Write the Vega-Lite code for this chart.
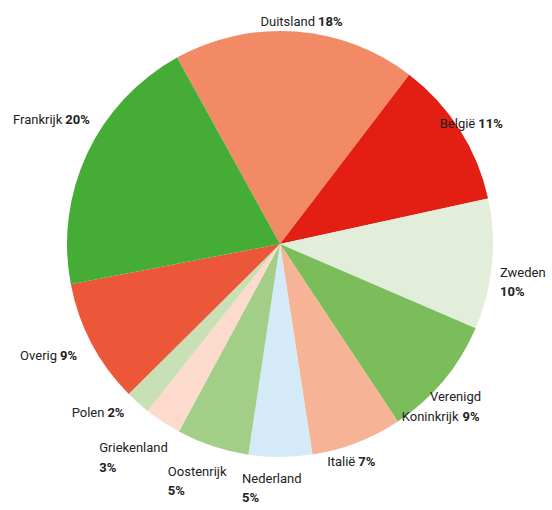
{
  "$schema": "https://vega.github.io/schema/vega-lite/v6.json",
  "width": 544,
  "height": 488,
  "autosize": "none",
  "padding": {"left": 8, "top": 0, "right": 0, "bottom": 22},
  "background": "white",
  "config": {"view": {"stroke": null}, "text": {"font": "Roboto", "fontSize": 13, "baseline": "alphabetic", "color": "#222222"}},
  "data": {"values": [
    {"country": "Duitsland", "share": 18.4, "pct": "18%", "order": 1},
    {"country": "België", "share": 11.2, "pct": "11%", "order": 2},
    {"country": "Zweden", "share": 9.9, "pct": "10%", "order": 3},
    {"country": "Verenigd Koninkrijk", "share": 9.2, "pct": "9%", "order": 4},
    {"country": "Italië", "share": 6.9, "pct": "7%", "order": 5},
    {"country": "Nederland", "share": 4.8, "pct": "5%", "order": 6},
    {"country": "Oostenrijk", "share": 5.5, "pct": "5%", "order": 7},
    {"country": "Griekenland", "share": 2.8, "pct": "3%", "order": 8},
    {"country": "Polen", "share": 1.9, "pct": "2%", "order": 9},
    {"country": "Overig", "share": 9.4, "pct": "9%", "order": 10},
    {"country": "Frankrijk", "share": 20.0, "pct": "20%", "order": 11}
  ]},
  "transform": [
    {"stack": "share", "groupby": [], "sort": [{"field": "order", "order": "ascending"}], "as": ["s0", "s1"]},
    {"calculate": "(datum.s0 + datum.s1) / 2", "as": "mid"}
  ],
  "layer": [
    {
      "mark": {"type": "arc", "outerRadius": 213},
      "encoding": {
        "theta": {"field": "s0", "type": "quantitative", "stack": null, "scale": {"domain": [0, 100], "range": [-0.5044, 5.7788]}},
        "theta2": {"field": "s1"},
        "color": {"field": "country", "type": "nominal", "legend": null,
          "scale": {"domain": ["Duitsland", "België", "Zweden", "Verenigd Koninkrijk", "Italië", "Nederland", "Oostenrijk", "Griekenland", "Polen", "Overig", "Frankrijk"],
                    "range": ["#F28A66", "#E31E13", "#E2EDDA", "#7BBC5B", "#F7B396", "#D5EAF9", "#A3CE88", "#FCDBCC", "#C8E0B4", "#EC5739", "#45AC36"]}}
      }
    },
    {"transform": [{"filter": {"field": "country", "equal": "Duitsland"}}], "mark": {"type": "text", "radius": 225, "align": "right", "dx": 18.5, "dy": 6}, "encoding": {"theta": {"field": "mid", "type": "quantitative", "stack": null}, "text": {"field": "country"}}},
    {"transform": [{"filter": {"field": "country", "equal": "Duitsland"}}], "mark": {"type": "text", "radius": 225, "align": "left", "dx": 21.5, "dy": 6, "fontWeight": "bold"}, "encoding": {"theta": {"field": "mid", "type": "quantitative", "stack": null}, "text": {"field": "pct"}}},
    {"transform": [{"filter": {"field": "country", "equal": "Frankrijk"}}], "mark": {"type": "text", "radius": 225, "align": "right", "dx": -14, "dy": -25}, "encoding": {"theta": {"field": "mid", "type": "quantitative", "stack": null}, "text": {"field": "country"}}},
    {"transform": [{"filter": {"field": "country", "equal": "Frankrijk"}}], "mark": {"type": "text", "radius": 225, "align": "left", "dx": -11, "dy": -25, "fontWeight": "bold"}, "encoding": {"theta": {"field": "mid", "type": "quantitative", "stack": null}, "text": {"field": "pct"}}},
    {"transform": [{"filter": {"field": "country", "equal": "België"}}], "mark": {"type": "text", "radius": 225, "align": "right", "dx": 5.5, "dy": 5}, "encoding": {"theta": {"field": "mid", "type": "quantitative", "stack": null}, "text": {"field": "country"}}},
    {"transform": [{"filter": {"field": "country", "equal": "België"}}], "mark": {"type": "text", "radius": 225, "align": "left", "dx": 8.5, "dy": 5, "fontWeight": "bold"}, "encoding": {"theta": {"field": "mid", "type": "quantitative", "stack": null}, "text": {"field": "pct"}}},
    {"transform": [{"filter": {"field": "country", "equal": "Overig"}}], "mark": {"type": "text", "radius": 225, "align": "right", "dx": -24, "dy": 11}, "encoding": {"theta": {"field": "mid", "type": "quantitative", "stack": null}, "text": {"field": "country"}}},
    {"transform": [{"filter": {"field": "country", "equal": "Overig"}}], "mark": {"type": "text", "radius": 225, "align": "left", "dx": -21, "dy": 11, "fontWeight": "bold"}, "encoding": {"theta": {"field": "mid", "type": "quantitative", "stack": null}, "text": {"field": "pct"}}},
    {"transform": [{"filter": {"field": "country", "equal": "Polen"}}], "mark": {"type": "text", "radius": 225, "align": "right", "dx": -25.5, "dy": 5}, "encoding": {"theta": {"field": "mid", "type": "quantitative", "stack": null}, "text": {"field": "country"}}},
    {"transform": [{"filter": {"field": "country", "equal": "Polen"}}], "mark": {"type": "text", "radius": 225, "align": "left", "dx": -22.5, "dy": 5, "fontWeight": "bold"}, "encoding": {"theta": {"field": "mid", "type": "quantitative", "stack": null}, "text": {"field": "pct"}}},
    {"transform": [{"filter": {"field": "country", "equal": "Italië"}}], "mark": {"type": "text", "radius": 225, "align": "right", "dx": -6, "dy": 12.5}, "encoding": {"theta": {"field": "mid", "type": "quantitative", "stack": null}, "text": {"field": "country"}}},
    {"transform": [{"filter": {"field": "country", "equal": "Italië"}}], "mark": {"type": "text", "radius": 225, "align": "left", "dx": -3, "dy": 12.5, "fontWeight": "bold"}, "encoding": {"theta": {"field": "mid", "type": "quantitative", "stack": null}, "text": {"field": "pct"}}},
    {"transform": [{"filter": {"field": "country", "equal": "Zweden"}}], "mark": {"type": "text", "radius": 225, "align": "left", "dx": -4, "dy": 11.5}, "encoding": {"theta": {"field": "mid", "type": "quantitative", "stack": null}, "text": {"field": "country"}}},
    {"transform": [{"filter": {"field": "country", "equal": "Zweden"}}], "mark": {"type": "text", "radius": 225, "align": "left", "dx": -4, "dy": 30.5, "fontWeight": "bold"}, "encoding": {"theta": {"field": "mid", "type": "quantitative", "stack": null}, "text": {"field": "pct"}}},
    {"transform": [{"filter": {"field": "country", "equal": "Griekenland"}}], "mark": {"type": "text", "radius": 225, "align": "left", "dx": -57, "dy": 20}, "encoding": {"theta": {"field": "mid", "type": "quantitative", "stack": null}, "text": {"field": "country"}}},
    {"transform": [{"filter": {"field": "country", "equal": "Griekenland"}}], "mark": {"type": "text", "radius": 225, "align": "left", "dx": -57, "dy": 40, "fontWeight": "bold"}, "encoding": {"theta": {"field": "mid", "type": "quantitative", "stack": null}, "text": {"field": "pct"}}},
    {"transform": [{"filter": {"field": "country", "equal": "Oostenrijk"}}], "mark": {"type": "text", "radius": 225, "align": "left", "dx": -41, "dy": 18.3}, "encoding": {"theta": {"field": "mid", "type": "quantitative", "stack": null}, "text": {"field": "country"}}},
    {"transform": [{"filter": {"field": "country", "equal": "Oostenrijk"}}], "mark": {"type": "text", "radius": 225, "align": "left", "dx": -41, "dy": 37.6, "fontWeight": "bold"}, "encoding": {"theta": {"field": "mid", "type": "quantitative", "stack": null}, "text": {"field": "pct"}}},
    {"transform": [{"filter": {"field": "country", "equal": "Nederland"}}], "mark": {"type": "text", "radius": 225, "align": "left", "dx": -38.4, "dy": 13.7}, "encoding": {"theta": {"field": "mid", "type": "quantitative", "stack": null}, "text": {"field": "country"}}},
    {"transform": [{"filter": {"field": "country", "equal": "Nederland"}}], "mark": {"type": "text", "radius": 225, "align": "left", "dx": -38.4, "dy": 32.7, "fontWeight": "bold"}, "encoding": {"theta": {"field": "mid", "type": "quantitative", "stack": null}, "text": {"field": "pct"}}},
    {"transform": [{"filter": {"field": "country", "equal": "Verenigd Koninkrijk"}}], "mark": {"type": "text", "radius": 225, "align": "right", "dx": 28.3, "dy": 12.8, "text": "Verenigd"}, "encoding": {"theta": {"field": "mid", "type": "quantitative", "stack": null}}},
    {"transform": [{"filter": {"field": "country", "equal": "Verenigd Koninkrijk"}}], "mark": {"type": "text", "radius": 225, "align": "right", "dx": 5.8, "dy": 32.8, "text": "Koninkrijk"}, "encoding": {"theta": {"field": "mid", "type": "quantitative", "stack": null}}},
    {"transform": [{"filter": {"field": "country", "equal": "Verenigd Koninkrijk"}}], "mark": {"type": "text", "radius": 225, "align": "left", "dx": 9.8, "dy": 32.8, "fontWeight": "bold"}, "encoding": {"theta": {"field": "mid", "type": "quantitative", "stack": null}, "text": {"field": "pct"}}}
  ]
}
